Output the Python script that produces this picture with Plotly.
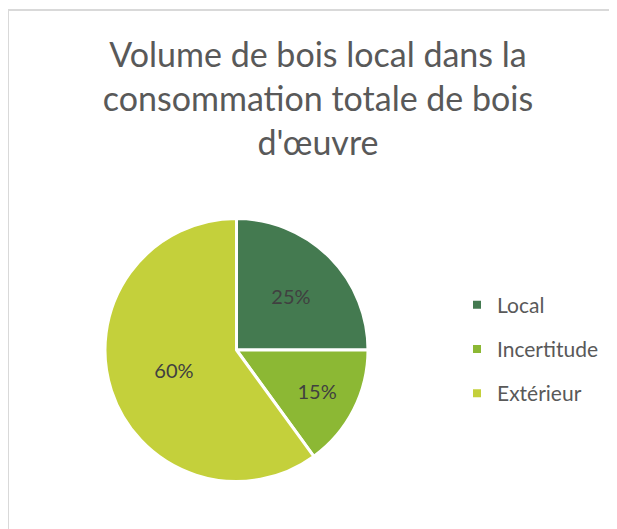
import plotly.graph_objects as go

labels = ["Local", "Incertitude", "Extérieur"]
values = [25, 15, 60]
colors = ["#447A50", "#8CB834", "#C4D03B"]
title_lines = ["Volume de bois local dans la", "consommation totale de bois", "d'œuvre"]

W, H = 617, 529
OFF = 8  # page body margin
FONT = "Lato, 'Open Sans', sans-serif"

def px(x):
    return (x - OFF) / W

def py(y):
    return 1 - (y - OFF) / H

fig = go.Figure()
fig.add_trace(go.Pie(
    labels=labels, values=values, sort=False, direction="clockwise", rotation=0,
    marker=dict(colors=colors, line=dict(color="white", width=3)),
    textinfo="percent", textposition="inside", insidetextorientation="horizontal",
    textfont=dict(family=FONT, size=20, color="#404040"),
    showlegend=False, hoverinfo="label+percent",
    domain=dict(x=[px(105), px(368)], y=[py(481.5), py(218.5)]),
))
for lab, col in zip(labels, colors):
    fig.add_trace(go.Scatter(
        x=[None], y=[None], mode="markers", name=lab, legendgroup=lab,
        marker=dict(symbol="square", size=8, color=col), showlegend=True,
    ))

fig.update_layout(
    width=W, height=H, margin=dict(l=0, r=0, t=0, b=0),
    paper_bgcolor="white", plot_bgcolor="white",
    xaxis=dict(visible=False), yaxis=dict(visible=False),
    title=dict(text="<br>".join(title_lines), x=px(318), xanchor="center",
               y=py(67), yanchor="top",
               font=dict(family=FONT, size=34, color="#595959")),
    legend=dict(x=px(457), y=py(349), xanchor="left", yanchor="middle",
                font=dict(family=FONT, size=21, color="#595959"),
                tracegroupgap=14, bgcolor="rgba(0,0,0,0)"),
    shapes=[dict(type="rect", xref="paper", yref="paper",
                 x0=px(8), x1=1.05, y0=-0.05, y1=py(10),
                 line=dict(color="#D9D9D9", width=2), fillcolor="rgba(0,0,0,0)", layer="below")],
)

fig.write_html("out.html")
